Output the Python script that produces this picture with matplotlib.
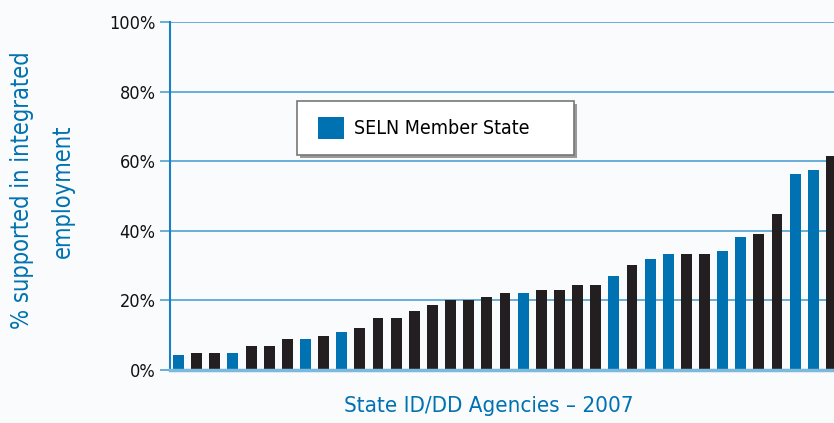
import numpy as np
import matplotlib.pyplot as plt
from matplotlib.patches import Patch, Rectangle

# % supported in integrated employment, sorted low to high
values = [4.2, 5.0, 5.0, 5.0, 7.0, 7.0, 9.0, 9.0, 9.9, 11.0,
          12.2, 14.8, 14.8, 17.0, 18.6, 20.2, 20.2, 21.1, 22.0, 22.0,
          22.9, 22.9, 24.3, 24.3, 27.0, 30.1, 31.9, 33.3, 33.3, 33.3,
          34.2, 38.3, 39.1, 44.9, 56.2, 57.4, 61.4]
# 1 = SELN member state
seln = [1, 0, 0, 1, 0, 0, 0, 1, 0, 1,
        0, 0, 0, 0, 0, 0, 0, 0, 0, 1,
        0, 0, 0, 0, 1, 0, 1, 1, 0, 0,
        1, 1, 0, 0, 1, 1, 0]
yticks = [0, 20, 40, 60, 80, 100]
ytick_labels = ['0%', '20%', '40%', '60%', '80%', '100%']

BLUE = '#0072B1'
BLACK = '#231F20'
GRID = '#5FA8D3'
BG = '#F9FBFD'

plt.rcParams['font.family'] = ['DejaVu Sans']
plt.rcParams['font.stretch'] = 'condensed'

fig = plt.figure(figsize=(8.34, 4.23), dpi=100, facecolor=BG)
ax = fig.add_axes([170 / 834, 53 / 423, 1 - 170 / 834, (370 - 22) / 423])
ax.set_facecolor(BG)

x = np.arange(len(values))
colors = [BLUE if s else BLACK for s in seln]
ax.bar(x, values, width=0.6, color=colors, zorder=3)

ax.set_xlim(-0.47, len(values) - 1 + 0.14)
ax.set_ylim(0, 100)
ax.set_yticks(yticks)
ax.set_yticklabels(ytick_labels, fontsize=13, color='#111111')
ax.set_xticks([])
ax.yaxis.grid(True, color=GRID, linewidth=1.3, zorder=1)
ax.tick_params(axis='y', length=7, width=1.3, color=GRID, pad=3.5)

for s in ['top', 'right']:
    ax.spines[s].set_visible(False)
ax.spines['left'].set_color('#1A80C4')
ax.spines['left'].set_linewidth(1.5)
ax.spines['bottom'].set_color('#7DB9DC')
ax.spines['bottom'].set_linewidth(2.5)
ax.spines['bottom'].set_zorder(4)

fig.text(22 / 834, 1 - 190 / 423, '% supported in integrated',
         rotation=90, ha='center', va='center', fontsize=17, color=BLUE)
fig.text(63 / 834, 1 - 191 / 423, 'employment',
         rotation=90, ha='center', va='center', fontsize=17, color=BLUE)
fig.text(489 / 834, 1 - 406 / 423, 'State ID/DD Agencies \u2013 2007',
         ha='center', va='center', fontsize=16, color=BLUE)

# legend box with a small shadow
ax.add_patch(Rectangle((300 / 834, 1 - 158 / 423), 277 / 834, 54 / 423,
                       transform=fig.transFigure, facecolor='#9A9A9A',
                       edgecolor='none', zorder=5, clip_on=False))
ax.add_patch(Rectangle((297 / 834, 1 - 155 / 423), 277 / 834, 54 / 423,
                       transform=fig.transFigure, facecolor='white',
                       edgecolor='#777777', linewidth=1.2, zorder=6,
                       clip_on=False))
leg = ax.legend(handles=[Patch(facecolor=BLUE, label='SELN Member State')],
                loc='center left', bbox_to_anchor=(318 / 834, 1 - 128 / 423),
                bbox_transform=fig.transFigure, frameon=False, fontsize=14,
                handlelength=1.35, handleheight=1.35, handletextpad=0.5,
                borderpad=0, borderaxespad=0)
leg.set_zorder(10)

fig.savefig('out.png', dpi=100, facecolor=BG)
